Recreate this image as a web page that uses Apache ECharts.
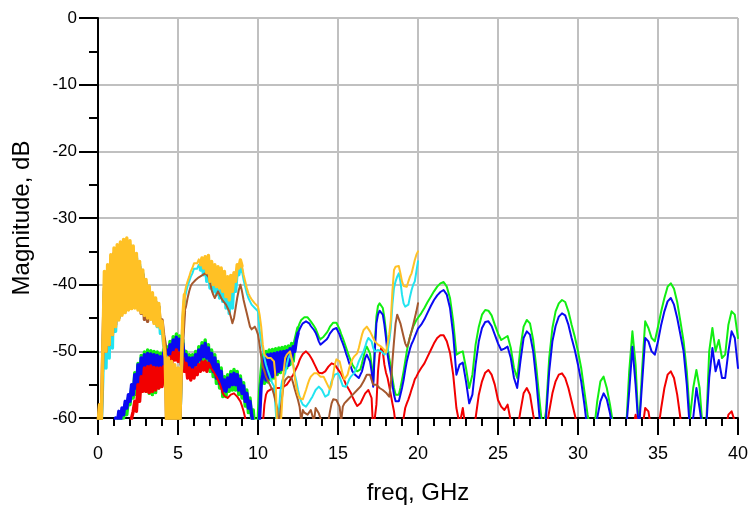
<!DOCTYPE html>
<html>
<head>
<meta charset="utf-8">
<script src="https://cdn.jsdelivr.net/npm/echarts@6.0.0/dist/echarts.min.js"></script>
<style>
  html, body { margin: 0; padding: 0; background: #ffffff; }
  #chart { width: 749px; height: 505px; }
</style>
</head>
<body>
<div id="chart"></div>
<script>
// Frequency sample grids (GHz): 0.1 GHz below 20 GHz, 0.2 GHz from 20 to 40 GHz.
const FREQ_LOW = [];
for (let i = 0; i <= 200; i++) FREQ_LOW.push(+(i * 0.1).toFixed(1));
const FREQ_HIGH = [];
for (let i = 1; i <= 100; i++) FREQ_HIGH.push(+(20 + i * 0.2).toFixed(1));

const X_TICKS = [0, 5, 10, 15, 20, 25, 30, 35, 40];
const Y_TICKS = [-60, -50, -40, -30, -20, -10, 0];

// Magnitude (dB), 0 - 20 GHz
const greenLow = [
  -62, -62, -62, -62, -62, -62, -62, -62, -62, -62,
  -62, -62, -61, -60, -61, -59, -60, -58, -59.5, -57,
  -58, -55.5, -57, -53.2, -56.5, -51.8, -56, -50.6, -55.5, -50.1,
  -56, -49.8, -56.3, -49.9, -56.5, -50, -56.2, -50.1, -55.5, -50.3,
  -55, -49.7, -53.8, -49.3, -52.5, -48.5, -51.3, -47.8, -50.5, -47.4,
  -50.5, -47.7, -51, -48.3, -52, -50, -53.3, -50.5, -53.8, -50.5,
  -53.3, -50, -52.8, -49.3, -52, -48.7, -51.5, -48.3, -51.8, -49,
  -53, -49.8, -53.8, -50.5, -54.8, -51.5, -55.5, -52.5, -56.8, -53.8,
  -56.8, -53.5, -56, -53, -55.8, -52.7, -55.8, -53, -56.5, -53.7,
  -57, -54.7, -58.2, -55.8, -59.2, -57, -60, -58.8, -62, -62,
  -61, -56, -53, -50.5, -54.8, -50, -54.6, -49.8, -54.3, -49.7,
  -54, -49.6, -53.5, -49.5, -53.2, -49.4, -52.8, -49.3, -52.5, -49.2,
  -52, -48.8, -51.5, -48.5, -47.5, -46.5, -45.8, -45.3, -45, -44.9,
  -44.8, -44.9, -45.1, -45.5, -45.8, -46.2, -46.6, -47.2, -47.8, -48.2,
  -48, -47.8, -47.6, -47.2, -46.8, -46.3, -46, -45.7, -45.6, -45.7,
  -46, -46.7, -47.4, -48, -48.7, -49.4, -50.1, -50.8, -51.4, -52,
  -52.4, -52.7, -53, -53.2, -52.7, -51.8, -50.8, -49.8, -49.3, -49.6,
  -50.3, -52, -54.5, -49, -44.8, -43.2, -42.8, -42.8, -43.5, -45,
  -47, -49.5, -51, -52.3, -54, -55.5, -56.5, -56.8, -56.5, -55.5,
  -54.3, -53, -51.5, -50, -48.8, -47.8, -47, -46.3, -45.8, -45.3,
  -45
];
const blueLow = [
  -62, -62, -62, -62, -62, -62, -62, -62, -62, -62,
  -62, -60, -61, -59, -60.5, -58.5, -59.5, -57.5, -58.5, -56.5,
  -57.5, -55, -56.5, -53.5, -55.5, -52, -55, -51, -54.8, -50.5,
  -54.8, -50.3, -55, -50.4, -55, -50.5, -55, -50.6, -54.8, -50.8,
  -54, -50.2, -53, -49.8, -51.8, -49, -50.5, -48.3, -49.8, -47.9,
  -49.8, -48.2, -50.2, -48.8, -51.3, -50.5, -52.5, -51, -53, -51,
  -52.5, -50.5, -52, -49.8, -51.3, -49.2, -50.8, -48.8, -51, -49.5,
  -52.3, -50.3, -53, -51, -54, -52, -54.8, -53, -56, -54.3,
  -56, -54, -55.3, -53.5, -55, -53.3, -55, -53.5, -55.8, -54.2,
  -56.3, -55.2, -57.5, -56.3, -58.5, -57.5, -59.5, -59.5, -62, -62,
  -62, -60, -55, -53.5, -50.8, -54.3, -50.5, -54, -50.4, -53.8,
  -50.3, -53.5, -50.2, -53, -50.1, -52.7, -50, -52.4, -49.9, -52.1,
  -49.6, -51.3, -49.3, -50, -48.3, -47.3, -46.7, -46.2, -45.8, -45.6,
  -45.5, -45.6, -45.8, -46.2, -46.5, -46.8, -47.2, -47.8, -48.5, -49,
  -48.8, -48.6, -48.5, -48.2, -47.8, -47.3, -47, -46.7, -46.5, -46.5,
  -46.8, -47.5, -48.2, -48.8, -49.5, -50.3, -51, -51.8, -52.3, -53,
  -53.3, -53.6, -53.8, -54, -53.5, -53, -52, -51, -50.5, -50.8,
  -51.5, -53, -55.3, -50, -45.8, -44.5, -43.9, -43.8, -44.5, -46,
  -48, -50.5, -52, -53.3, -55, -56.5, -57.5, -57.8, -57.5, -56.5,
  -55.5, -54.3, -52.8, -51.5, -50.5, -49.6, -48.9, -48.4, -47.8, -47.2,
  -46.6
];
const redLow = [
  -62, -62, -62, -62, -62, -62, -62, -62, -62, -62,
  -62, -62, -62, -62, -62, -62, -62, -62, -62, -61,
  -62, -60, -59, -57.5, -59, -55, -57.5, -53.8, -56, -52.5,
  -56, -52.3, -56.2, -52.2, -56, -52.4, -55.8, -52.5, -55.5, -52.5,
  -55.3, -52.3, -54.5, -51.5, -53.3, -50.8, -52, -50.2, -51.3, -49.8,
  -51.5, -50.3, -52, -51, -53, -51.8, -54, -52.5, -54.3, -52.8,
  -54, -52.5, -53.5, -52, -53, -51.6, -52.8, -51.5, -53, -51.8,
  -52.3, -52.6, -53, -53.4, -53.8, -54.3, -54.8, -55.5, -56.3, -56.7,
  -56.9, -57, -56.8, -56.5, -56.3, -56.3, -56.5, -56.8, -57, -57.5,
  -58.2, -59, -60, -62, -62, -62, -62, -62, -62, -62,
  -62, -62, -62, -61, -58, -56.5, -56, -55.8, -55.7, -55.6,
  -55.6, -55.5, -55.5, -55.6, -55.5, -55.4, -55.3, -55.2, -55, -54.7,
  -54.3, -53.9, -53.5, -53, -52.5, -52, -51.3, -50.8, -50.4, -50.1,
  -50, -50.2, -50.5, -50.9, -51.3, -51.8, -52.3, -52.8, -53.2, -53.3,
  -53.3, -53.2, -53, -52.7, -52.3, -52, -51.8, -51.8, -52, -52.3,
  -52.7, -53, -53.4, -53.9, -54.4, -55, -55.4, -55.7, -56.2, -56.8,
  -57.3, -57.8, -58.2, -58.3, -57.8, -57.3, -56.8, -56.3, -56, -55.8,
  -55.7, -57, -62, -62, -58, -53, -50.5, -49.5, -50, -52,
  -53.2, -54, -55.2, -56.5, -57.8, -59, -61, -62, -62, -62,
  -62, -60, -58.5, -57.8, -57.2, -56.5, -55.7, -55, -54.2, -53.8,
  -53.3
];
const cyanLow = [
  -61, -59, -61, -54, -41, -52.5, -38.5, -51, -37, -49.5,
  -35.5, -47, -34.8, -45, -34.3, -44.3, -33.8, -43.9, -33.6, -43.5,
  -34, -43.3, -34.8, -43.2, -35.8, -43.5, -37, -43.9, -38.3, -44.3,
  -39.7, -44.7, -40.7, -44.9, -41.7, -45.5, -42.5, -46.3, -43.3, -47.3,
  -46, -49, -50.5, -51, -52, -62, -52, -62, -52.5, -62,
  -53, -62, -53.5, -46, -42.3, -41.2, -40.2, -39.5, -38.8, -38.3,
  -37.6, -37.4, -37.6, -37, -37.8, -36.8, -38.5, -36.6, -39.5, -36.5,
  -40.5, -37.3, -41, -37.8, -41.5, -38, -42, -38.3, -42.5, -38.8,
  -43.5, -39.5, -44.3, -39.3, -43.5, -39, -41, -37.8, -38.5, -37.2,
  -38, -39.3, -40.3, -41.3, -42, -42.5, -43, -43.3, -43.5, -43.7,
  -44, -46.8, -48.5, -49.8, -51, -52, -52.8, -53.5, -54.2, -54.8,
  -55.2, -55.3, -62, -62, -56, -54.5, -53.8, -53.3, -52, -51,
  -50.5, -50.3, -52, -53.5, -54.5, -55.8, -56.8, -57.5, -58, -58.3,
  -58.3, -58, -57.6, -57.2, -56.8, -56.3, -55.8, -55.5, -55.3, -55.5,
  -55.8, -56.3, -56.8, -57, -56.5, -55.5, -54.5, -54, -53.5, -53.3,
  -53.3, -53.8, -54.5, -55.2, -55.5, -55.3, -54.8, -54.2, -53.8, -53.5,
  -53.3, -52.8, -52.2, -51.5, -51, -50.5, -50, -49.3, -48.5, -48,
  -47.8, -48.5, -49.5, -50, -50, -49.8, -49.8, -50, -50.3, -50.5,
  -50.3, -50, -48.5, -46.5, -43, -40.5, -39.5, -38.8, -38.3, -39.5,
  -41.5, -42.8, -43.3, -43.5, -43, -41.8, -40.8, -40, -39.5, -38,
  -36.5
];
const brownLow = [
  -61, -58, -61, -50, -40.5, -50, -38, -49, -36.5, -47.5,
  -35.3, -46, -34.8, -45, -34.3, -44.3, -34, -43.9, -34, -43.5,
  -34.3, -43.3, -35, -43.2, -36, -43.5, -37.3, -44.3, -38.5, -45.2,
  -39.8, -45.5, -40.8, -45, -41.8, -45.5, -42.5, -46, -43.3, -46.3,
  -45.3, -47.5, -49, -62, -51.5, -62, -52, -62, -52.5, -62,
  -53, -62, -53.5, -48, -44, -43.3, -42, -41, -40.2, -39.8,
  -39.5, -39.3, -39.1, -38.9, -38.8, -38.6, -38.4, -38.3, -38.4, -38.8,
  -39.6, -40.8, -41.5, -42, -41.8, -41, -41.3, -42, -42.4, -42.6,
  -43, -43.5, -44, -44.8, -45.8, -45, -43.5, -42, -40.8, -40,
  -41, -42.3, -43.3, -44.3, -45.3, -46.3, -46.7, -46.5, -46.3, -46.8,
  -47.5, -49, -50.8, -52.3, -53, -53.8, -54.3, -54.8, -55.3, -55.7,
  -56.5, -57.5, -58.5, -62, -59, -57, -55, -54.3, -54, -53.8,
  -53.8, -54, -54.8, -55.7, -56.5, -57.3, -58.3, -60.5, -58.8, -59.2,
  -59.5, -59.5, -59.2, -58.8, -58.5, -60.5, -58.5, -58.8, -59.3, -60,
  -60.5, -61, -61, -61, -60.5, -59, -57.8, -57.2, -57, -57.3,
  -57.8, -58.3, -60.5, -58.3, -57.8, -57.5, -57.3, -57, -56.8, -56.5,
  -56.3, -56, -55.8, -55.5, -55.3, -55, -54.5, -54, -53.5, -53.3,
  -53.5, -54.3, -55, -55.2, -55, -55.2, -55.5, -55.7, -55.8, -56,
  -56.2, -56.5, -56.8, -55, -51.5, -48.5, -45.8, -44.5, -44.8, -45.8,
  -46.8, -47.8, -48.8, -49.3, -48.8, -47.8, -47, -46, -45, -44,
  -42.8
];
const orangeLow = [
  -61, -58, -61, -50, -38, -50, -37, -49, -35.5, -47.5,
  -34.5, -46.3, -34, -45.3, -33.6, -44.6, -33.2, -44.2, -33, -43.8,
  -33.4, -43.6, -34.2, -43.5, -35.3, -43.8, -36.5, -44.2, -37.8, -44.6,
  -39.2, -45, -40.2, -45.2, -41.2, -45.8, -42, -46.2, -42.8, -46.5,
  -45.5, -48.5, -51, -62, -51, -62, -51.5, -62, -52, -62,
  -52.5, -62, -53, -45, -41.5, -40.3, -39.5, -38.8, -38, -37.5,
  -36.8, -36.6, -36.8, -36.2, -37, -36, -37.5, -35.8, -38.2, -35.6,
  -39.5, -36.5, -40, -37, -40.3, -37.3, -40.5, -37.5, -41, -38,
  -41.8, -38.8, -42.3, -38.6, -41, -38.2, -39.5, -37, -37.5, -36.3,
  -37.2, -38.5, -39.5, -40.5, -41.3, -41.8, -42.2, -42.5, -42.8, -43,
  -43.3, -44.5, -46.3, -49, -50.5, -50.8, -51, -51.2, -51, -51,
  -51.5, -54, -62, -62, -62, -58, -53, -51, -50.5, -50.3,
  -50, -50.3, -52, -54, -55.5, -56.5, -57, -57.3, -57.2, -56.5,
  -55.8, -55, -54.3, -53.8, -53.5, -53.3, -53.3, -53.3, -53.5, -53.8,
  -53.5, -53.8, -54.3, -54.8, -55.3, -55.7, -55, -53.5, -52, -51.2,
  -51, -51.5, -52.5, -53.5, -54.2, -54.3, -53.5, -52.5, -51.8, -51.2,
  -50.8, -50.5, -50.3, -49.5, -48.5, -47.5, -46.8, -46.5, -46.3, -46.5,
  -47, -47.5, -48, -48.5, -48.8, -49, -49.2, -49.3, -49.5, -49.8,
  -50.2, -50.3, -47.5, -45.3, -41, -37.8, -37.3, -37, -37.2, -38.3,
  -39.5, -40.2, -40.5, -40.3, -39.5, -38.8, -38.3, -37.3, -36.3, -35.5,
  -35
];

// Magnitude (dB), 20.2 - 40 GHz
const greenHigh = [
  -44.3, -43.5, -42.6, -41.8, -41, -40.3, -39.8, -39.6, -40.3, -42,
  -45.5, -50.5, -50.2, -50, -52.5, -55.5, -53.5, -49, -46.3, -44.5,
  -43.8, -43.9, -44.6, -46, -47.3, -48.3, -48, -47.7, -49.5, -52.5,
  -54, -49.5, -46.3, -45.3, -45.8, -48.3, -52.5, -57.5, -62, -59,
  -51, -46.5, -44, -42.8, -42.3, -42.6, -44, -46, -47.8, -50,
  -52.5, -56, -59.5, -62, -62, -57.5, -54.5, -53.8, -55.5, -58,
  -61, -62, -62, -62, -62, -53, -47, -52, -62, -53,
  -45.5, -46.5, -48, -48.5, -46.3, -44, -42, -40.3, -39.8, -40.6,
  -42.6, -45.5, -48.5, -53, -60, -55.5, -52.8, -55.5, -62, -62,
  -50, -46.5, -50, -48.3, -51, -50.5, -46, -44, -44.5, -48
];
const blueHigh = [
  -46, -45.2, -44.2, -43.2, -42.3, -41.6, -41.1, -40.8, -41.5, -43.5,
  -47.5, -53.5, -52, -51.7, -54.5, -57.8, -56.5, -52, -48.5, -46.5,
  -45.6, -45.5, -46.2, -47.5, -48.8, -49.8, -49.6, -49.3, -51, -54,
  -55.5, -51.5, -48, -47, -47.5, -50, -54.5, -60, -62, -60,
  -53, -48.5, -46.2, -44.8, -44.3, -44.6, -46, -48, -49.8, -52,
  -54.5, -58, -62, -62, -62, -60, -57.5, -56.3, -57.2, -59.3,
  -62, -62, -62, -62, -62, -56, -49.3, -55, -62, -55,
  -48, -48.5, -50, -50.5, -48.5, -46, -44, -42.5, -42, -43,
  -45, -47.5, -50, -55, -62, -60, -55.5, -58.5, -62, -62,
  -54, -49.5, -53, -51.3, -54, -54, -50, -47, -48, -52.5
];
const redHigh = [
  -52.5, -51.8, -50.8, -49.8, -48.8, -48, -47.6, -47.6, -48.5, -50.2,
  -53.5, -58.5, -61, -58.5, -62, -62, -62, -60, -56.5, -54.5,
  -53.2, -52.8, -53.5, -55, -57.3, -58.3, -58.8, -58, -60.5, -62,
  -62, -59, -56.3, -55.5, -56.5, -59.5, -62, -62, -62, -62,
  -59, -56.3, -54.5, -53.5, -53.3, -54, -55.5, -57.5, -59.5, -62,
  -62, -62, -62, -62, -62, -62, -62, -62, -62, -62,
  -62, -62, -62, -62, -62, -62, -62, -59.5, -62, -62,
  -58.5, -59, -62, -62, -62, -58.5, -55.5, -53.5, -53, -54,
  -56.5, -60, -62, -62, -62, -62, -62, -62, -62, -62,
  -62, -62, -62, -62, -62, -62, -59.5, -59, -60.5, -62
];

const COLORS = {
  green: '#12EE12',
  blue: '#0A0AF2',
  red: '#F20000',
  cyan: '#22E4F0',
  brown: '#A5582E',
  orange: '#FFC125'
};

// Sample-index spans (into the 0 - 20 GHz grid) where a trace swings quickly
// between two levels; those spans get a heavier stroke so the swing reads as a band.
const DENSE_SPANS = {
  green: [[10, 125]],
  blue: [[10, 125]],
  red: [[20, 70]],
  cyan: [[0, 54], [64, 90]],
  brown: [[0, 54]],
  orange: [[0, 54], [64, 90]]
};

function pairs(freqs, values) {
  return freqs.map((f, i) => [f, values[i]]);
}

function lineSeries(name, color, data, width) {
  return {
    name: name,
    type: 'line',
    data: data,
    showSymbol: false,
    symbol: 'none',
    clip: true,
    lineStyle: { color: color, width: width, join: 'round', cap: 'round' },
    itemStyle: { color: color },
    emphasis: { disabled: true },
    animation: false
  };
}

function traceGroup(name, freqs, values) {
  const color = COLORS[name];
  const group = [lineSeries(name, color, pairs(freqs, values), 2)];
  DENSE_SPANS[name].forEach(([a, b]) => {
    const seg = [];
    for (let i = a; i <= b; i++) seg.push([freqs[i], values[i]]);
    group.push(lineSeries(name + '-dense', color, seg, 3.4));
  });
  return group;
}

const FREQ_ALL = FREQ_LOW.concat(FREQ_HIGH);
const series = [].concat(
  traceGroup('green', FREQ_ALL, greenLow.concat(greenHigh)),
  traceGroup('blue', FREQ_ALL, blueLow.concat(blueHigh)),
  traceGroup('red', FREQ_ALL, redLow.concat(redHigh)),
  traceGroup('cyan', FREQ_LOW, cyanLow),
  traceGroup('brown', FREQ_LOW, brownLow),
  traceGroup('orange', FREQ_LOW, orangeLow)
);

const FONT = 'Liberation Sans, Arial, sans-serif';

const chart = echarts.init(document.getElementById('chart'), null, { renderer: 'canvas' });
chart.setOption({
  backgroundColor: '#ffffff',
  animation: false,
  grid: { left: 98, right: 11, top: 18, bottom: 87, containLabel: false, outerBoundsMode: 'none' },
  xAxis: {
    type: 'value',
    min: X_TICKS[0],
    max: X_TICKS[X_TICKS.length - 1],
    interval: X_TICKS[1] - X_TICKS[0],
    name: 'freq, GHz',
    nameLocation: 'middle',
    nameGap: 63,
    nameTextStyle: { color: '#000', fontSize: 24, fontFamily: FONT },
    axisLine: { show: true, onZero: false, lineStyle: { color: '#000', width: 2 } },
    axisTick: { show: true, inside: false, length: 17, lineStyle: { color: '#000', width: 2 } },
    minorTick: { show: true, splitNumber: 5, length: 8, lineStyle: { color: '#000', width: 2 } },
    axisLabel: { color: '#000', fontSize: 18, fontFamily: FONT, margin: 27, showMinLabel: true, showMaxLabel: true },
    splitLine: { show: true, lineStyle: { color: '#C0C0C0', width: 2 } },
    minorSplitLine: { show: false }
  },
  yAxis: {
    type: 'value',
    min: Y_TICKS[0],
    max: Y_TICKS[Y_TICKS.length - 1],
    interval: Y_TICKS[1] - Y_TICKS[0],
    name: 'Magnitude, dB',
    nameLocation: 'middle',
    nameGap: 64,
    nameTextStyle: { color: '#000', fontSize: 24, fontFamily: FONT },
    axisLine: { show: true, onZero: false, lineStyle: { color: '#000', width: 2 } },
    axisTick: { show: true, inside: false, length: 19, lineStyle: { color: '#000', width: 2 } },
    minorTick: { show: true, splitNumber: 2, length: 9, lineStyle: { color: '#000', width: 2 } },
    axisLabel: { color: '#000', fontSize: 17, fontFamily: FONT, margin: 21, showMinLabel: true, showMaxLabel: true },
    splitLine: { show: true, lineStyle: { color: '#C0C0C0', width: 2 } },
    minorSplitLine: { show: false }
  },
  tooltip: { show: false },
  legend: { show: false },
  series: series
});
</script>
</body>
</html>
